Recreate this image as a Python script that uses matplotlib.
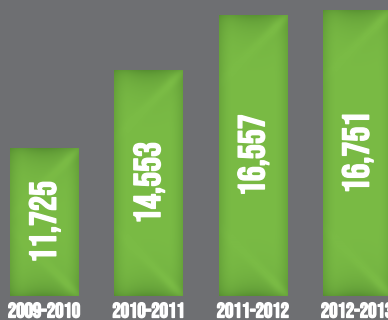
import numpy as np
import matplotlib

matplotlib.use("Agg")
import matplotlib.pyplot as plt
import matplotlib.patheffects as pe
from matplotlib.patches import Rectangle

seasons = ["2009-2010", "2010-2011", "2011-2012", "2012-2013"]
values = [11725, 14553, 16557, 16751]
value_labels = ["11,725", "14,553", "16,557", "16,751"]

BG = "#6e6f72"
DARK = np.array([0x4c, 0x82, 0x2b]) / 255.0
LIGHT = np.array([0x7a, 0xbb, 0x45]) / 255.0
FONT = ["Bebas Neue", "DejaVu Sans"]

# infographic scale: bars don't start at zero
base = 6380
bar_w = 0.66


def bar_shading(h, w):
    """Pillow-like shading for one bar, in pixel units."""
    y, x = np.mgrid[0:h, 0:w].astype(float)
    u = (x + 0.5) / w
    side = np.clip(np.minimum(u, 1 - u) / 0.22, 0, 1)
    b = 1.0 - 0.4 * (1 - side) ** 2
    mid = np.exp(-((u - 0.5) / 0.5) ** 2)
    b -= 0.6 * mid * np.exp(-y / 16.0)
    b -= 0.6 * mid * np.exp(-(h - 1 - y) / 16.0)
    b -= 0.15 * np.exp(-y / 4.0) + 0.15 * np.exp(-(h - 1 - y) / 4.0)
    d_top = (x + y - w) / np.sqrt(2)
    b += 0.35 * np.exp(-(d_top / 5.0) ** 2) * np.exp(-y / 25.0)
    d_bot = (x - (y - (h - w))) / np.sqrt(2)
    b += 0.35 * np.exp(-(d_bot / 5.0) ** 2) * np.exp(-(h - 1 - y) / 25.0)
    b = np.clip(b, 0, 1)
    return DARK + (LIGHT - DARK) * b[..., None]


fig = plt.figure(figsize=(3.88, 3.20), dpi=100, facecolor=BG)
ax = fig.add_axes([0, 0, 1, 1])
ax.set_facecolor(BG)
ax.set_xlim(-0.427, 3.293)
ax.set_ylim(5510, 17096)
ax.axis("off")

bold = [pe.withStroke(linewidth=1.0, foreground="white")]
for i, (season, val, lab) in enumerate(zip(seasons, values, value_labels)):
    x0, x1 = i - bar_w / 2, i + bar_w / 2
    (px0, py0), (px1, py1) = ax.transData.transform([(x0, base), (x1, val)])
    h_px = max(int(round(py1 - py0)), 2)
    w_px = max(int(round(px1 - px0)), 2)
    rect = Rectangle((x0, base), bar_w, val - base, facecolor="none", edgecolor="none")
    ax.add_patch(rect)
    im = ax.imshow(bar_shading(h_px, w_px), extent=(x0, x1, base, val), origin="upper",
                   aspect="auto", interpolation="bilinear", zorder=2)
    im.set_clip_path(rect)
    ax.text(i, (base + val) / 2, lab, rotation=90, ha="center", va="center",
            color="white", fontsize=27, family=FONT, zorder=3, path_effects=bold)
    ax.text(i, 0.008, season, transform=ax.get_xaxis_transform(), ha="center", va="baseline",
            color="white", fontsize=15, family=FONT, path_effects=bold)

ax.set_xlim(-0.427, 3.293)
ax.set_ylim(5510, 17096)
fig.savefig("out.png", dpi=100, facecolor=BG)
